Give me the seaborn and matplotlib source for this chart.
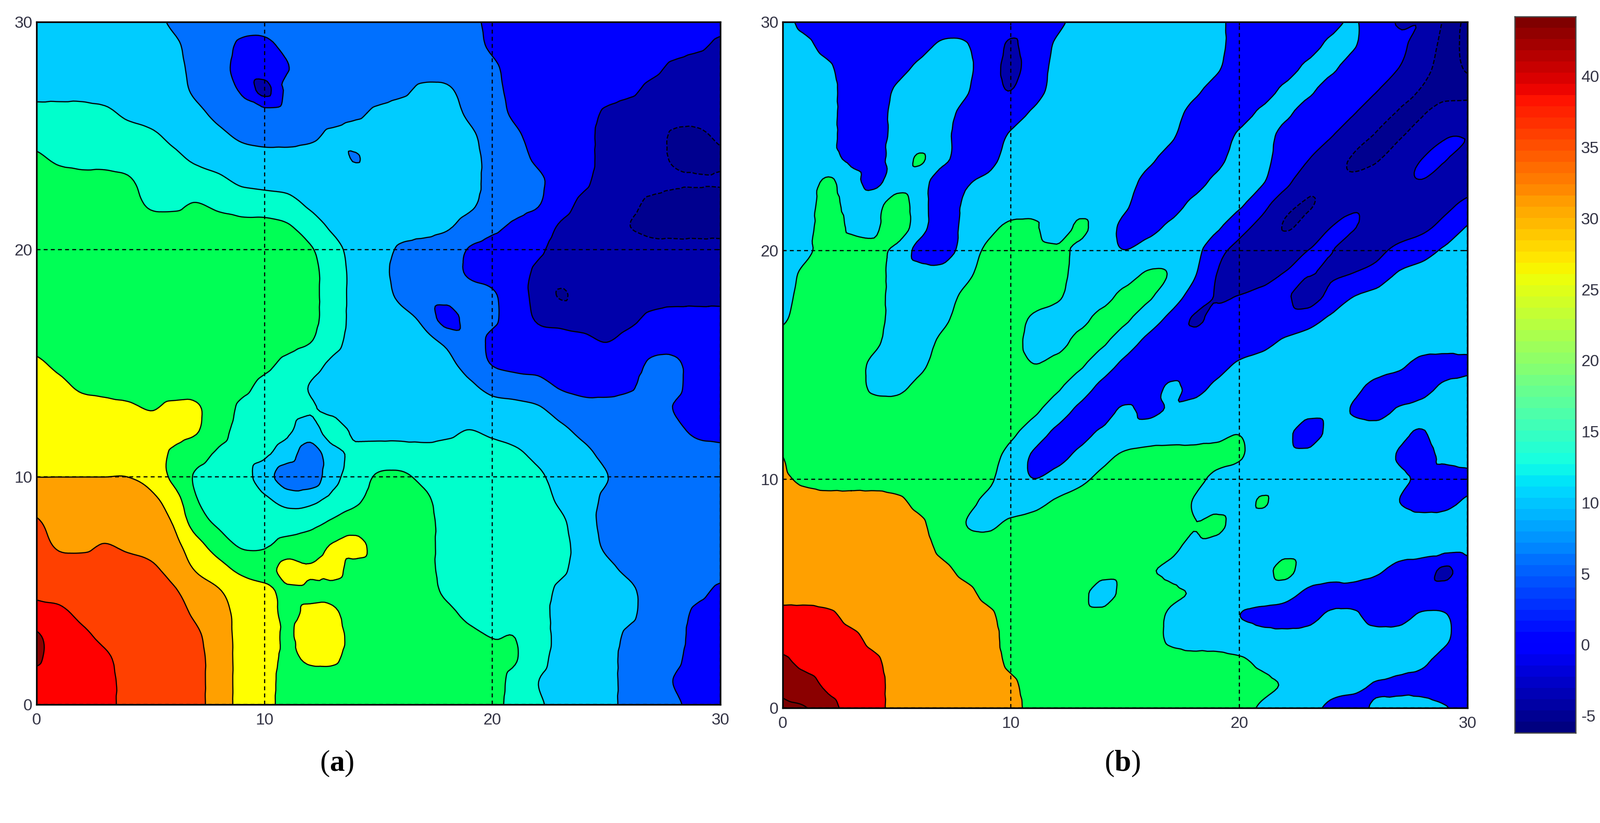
import numpy as np
import matplotlib
matplotlib.use("Agg")
import matplotlib.pyplot as plt
from matplotlib.tri import Triangulation, UniformTriRefiner, CubicTriInterpolator
import seaborn as sns

# Band grids, rows y=30 ... y=0, columns x=0 ... 30 ("band*count")
rows_a = [
 "4*6 3*14 2*6 3 2*4",
 "4*7 3*2 2*2 3*9 2*10 1",
 "4*7 3*2 2*3 3*9 2*7 1*3",
 "4*7 3*2 2*2 3*6 4*2 3*2 2*6 1*4",
 "5*4 4*4 3*7 4*4 3*2 2*4 1*6",
 "5*6 4*3 3*4 4*7 3*2 2*3 1*3 0*2 1",
 "6 5*6 4*13 3*2 2*3 1*3 0*3",
 "6*5 5*4 4*11 3*3 2*2 1*6",
 "6*5 5*2 6 5*4 4*8 3*3 2 1*3 0*4",
 "6*12 5 4*6 3*2 2*2 1*3 0*5",
 "6*13 5 4*2 3*3 2*4 1*8",
 "6*13 5 4*2 3*3 2*3 1*9",
 "6*13 5 4*2 3*5 2 1*9",
 "6*13 5 4*3 3*4 2 1*5 2*4",
 "6*13 5 4*4 3*2 2*5 1 2*5",
 "7 6*10 5*2 4*6 3 2*7 3*2 2*2",
 "7*2 6*8 5*2 4*8 3*3 2*4 3*2 2*2",
 "7*5 6 7*2 6 5*4 4*10 3*5 2*3",
 "7*8 6 5*3 4 5 4*5 5 4*4 3*5 2*2",
 "7*6 6*2 5*3 4 3 4 5*8 4*3 3*6",
 "h*6 6 5*3 4 3*2 4 5 6*2 5*6 4*3 3*5",
 "8*6 7 5*4 4*2 5*2 6*3 5*5 4*2 3*6",
 "9 8*6 6 5*5 6*5 5*6 4 3*6",
 "9 8*2 9 8*3 7 6 5*2 6*3 7 6*3 5*6 4 3*6",
 "9*6 8 7*2 6*2 7*3 6*4 5*6 4*2 3*5",
 "9*7 8*2 7*2 6*7 5*5 4*4 3*3 2",
 "a*2 9*5 8*2 7*2 6 7*2 6*5 5*4 4*4 3*2 2*2",
 "b a*2 9*5 8 7*2 6 7*2 6*6 5 6 5 4*3 3*3 2*2",
 "b a*3 9*4 8 7*2 6 7*2 6*8 5 4*3 3*3 2*2",
 "a*4 9*4 8 7*2 6*10 5 4*4 3*2 2*3",
 "a*4 9*4 8 7*2 6*10 5*2 4*3 3*3 2*2",
]
rows_b = [
 "3 2*12 3*7 2*5 3 2*3 0 e",
 "3*2 2*5 3*2 2 1 2 3*8 2*4 3*2 2*2 1 0 e",
 "3*3 2*3 3*3 2 1 2 3*8 2*3 3*2 2*3 1 0 e",
 "3*3 2*2 3*4 2 1 2 3*7 2*3 3*2 2*3 1 0*3",
 "3*3 2*2 3*3 2*3 3*7 2*3 3*2 2*3 1 0*2 1*2",
 "3*3 2*2 3*3 2*2 3*8 2*2 3*2 2*3 1 0*2 1 2*2",
 "3*3 2*2 3*3 2*2 3*7 2*3 3*2 2*2 1 0*2 1 2*2 1",
 "3*8 2 3*7 2*3 3*3 2 1 0*2 1 2*2 1*2",
 "3*2 4 3*2 4 3 2 3*8 2*2 3*3 2 1 0 1 2*2 1*3 2",
 "3*2 4 3*2 4 3 2 3*2 4*2 3 4 3 2*2 3*3 2 1 0 1 2*2 1*3 2 3",
 "3*2 4*3 3*2 2 3 4*4 3*2 2 3*3 2 1*3 2*2 1*2 2*2 3*2",
 "3 4*4 3*4 4*4 3*3 4*2 3 1*3 2*2 1*2 2 3*4",
 "3 4*4 3*3 4*5 3*2 4*2 3 2 1 2*3 1 2 3*6",
 "3 4*4 3*3 4*3 3*3 4*2 3 2*7 3*7",
 "4*5 3*2 4*4 3*2 4*2 3 2*6 3*9",
 "4*4 3*3 4*4 3 4*2 3 2*5 3*8 2*3",
 "4*4 3*2 4*7 3 2*5 3*7 2*3 3*2",
 "4*12 3 2*4 3*8 2*2 3*4",
 "4*11 3 2*2 3*6 4 3*2 2 3*4 2 3*2",
 "4*10 3 2*2 3*2 4*6 3*6 2*2 3*2",
 "5 4*9 3 2 3*2 4*5 3*10 2*2",
 "5*6 4*3 3*3 4*6 3*9 2*3 3",
 "5*7 4 3*2 4*9 3*12",
 "5*7 4*11 3*13",
 "5*8 4*8 3*6 4 3*4 2*4",
 "5*9 4*5 3 4*4 3*4 2*8",
 "6*3 5*7 4*7 3*3 2*4 3*2 2*2 3*2 2",
 "6*4 5*6 4*7 3*13 2",
 "7 6*4 5*5 4*11 3*8 2*2",
 "7*2 6*3 5*6 4*12 3*3 2*5",
 "8*2 7 6*2 5*6 4*10 3*3 2*2 3*4 2",
]
# band -> value
values_a = {"0": -5, "1": -2, "2": 3, "3": 8, "4": 13, "5": 18, "6": 23, "7": 28,
            "h": 30.5, "8": 33, "9": 38, "a": 42, "b": 47}
values_b = {"e": -9, "0": -6, "1": -3, "2": 3, "3": 12, "4": 22, "5": 32, "6": 40, "7": 44, "8": 47}
# small or narrow features (x, y, value)
spots_a = [(14, 24, 10.2), (10, 27, -1), (23, 18, -3.8), (18, 17, 3), (11, 10, 7.5), (12, 10, 7.5),
           (12, 11, 8), (11, 6, 27), (12, 6, 25.8), (13, 6, 26.5), (14, 7, 27), (13, 7, 25.8)]
spots_b = [(6, 24, 18), (2, 23, 18.5), (2, 22, 20), (2, 21, 21), (5, 22, 21), (5, 21, 22), (21, 9, 18),
           (27, 30, 0.3), (18, 17, 0.3), (17, 14, 9.5), (15, 13, 9.5), (29, 6, -0.5),
           (23, 22, -4.7), (22, 21, -4.7), (7, 23, 3), (7, 22, 3), (7, 21, 3), (7, 20, 3), (6, 20, 5),
           (4, 23, 6), (13, 21, 19), (12, 21, 10), (22, 6, 20), (0, 11, 27), (19, 8, 20)]

levels_a = [-20, -3.5, 0.5, 5.5, 10.5, 15.5, 20.5, 25.5, 30.5, 35.5, 40, 44.5, 60]
colors_a = ["#00008F", "#0000AA", "#0000FF", "#0070FF", "#00CCFF", "#00FFCC", "#00FF55",
            "#FFFF00", "#FFA000", "#FF4000", "#FF0000", "#8B0000"]
levels_b = [-20, -7.5, -4.5, 0.8, 8, 17, 27, 36, 42, 45.5, 60]
colors_b = ["#00008F", "#00008F", "#0000AA", "#0000FF", "#00CCFF", "#00FF55", "#FFA000",
            "#FF0000", "#8B0000", "#7A0000"]

ticks = [0, 10, 20, 30]
bar_ticks = [-5, 0, 5, 10, 15, 20, 25, 30, 35, 40]
bar_min, bar_max = -6.2, 44.2
panel_labels = [r"($\mathbf{a}$)", r"($\mathbf{b}$)"]
KERNEL = np.array([0.22, 0.56, 0.22])


def grid(rows, values, spots):
    table = []
    for row in rows:
        cells = []
        for tok in row.split():
            ch, _, n = tok.partition("*")
            cells += [values[ch]] * int(n or 1)
        assert len(cells) == 31, row
        table.append(cells)
    z = np.array(table, dtype=float)[::-1]
    # soften the cell-sized steps; single-cell features keep their value
    p = np.pad(z, 1, mode="edge")
    same = (p[1:-1, :-2] == z) | (p[1:-1, 2:] == z) | (p[:-2, 1:-1] == z) | (p[2:, 1:-1] == z)
    s = np.apply_along_axis(lambda r: np.convolve(np.pad(r, 1, mode="edge"), KERNEL, "valid"), 0, z)
    s = np.apply_along_axis(lambda r: np.convolve(np.pad(r, 1, mode="edge"), KERNEL, "valid"), 1, s)
    z = np.where(same, s, z)
    for x, y, v in spots:
        z[y, x] = v
    return z


def mesh(z, rising):
    """Triangular mesh on the 31x31 grid; the shared edge of each cell follows the main trend."""
    X, Y = np.meshgrid(np.arange(31), np.arange(31))
    tris = []
    for j in range(30):
        for i in range(30):
            a, b, c, d = j * 31 + i, j * 31 + i + 1, (j + 1) * 31 + i + 1, (j + 1) * 31 + i
            if rising:
                tris += [[a, b, c], [a, c, d]]
            else:
                tris += [[a, b, d], [b, c, d]]
    tri = Triangulation(X.ravel().astype(float), Y.ravel().astype(float), np.array(tris))
    interp = CubicTriInterpolator(tri, z.ravel(), kind="geom")
    return UniformTriRefiner(tri).refine_field(z.ravel(), triinterpolator=interp, subdiv=3)


sns.set_theme(style="white")
plt.rcParams["font.family"] = ["Liberation Sans", "DejaVu Sans"]
plt.rcParams["mathtext.fontset"] = "custom"
plt.rcParams["mathtext.rm"] = "Liberation Serif"
plt.rcParams["mathtext.bf"] = "Liberation Serif:bold"

W, H = 3283, 1688
fig = plt.figure(figsize=(W / 100, H / 100), dpi=100, facecolor="white")


def add_axes(x0, x1, y0, y1):
    return fig.add_axes([x0 / W, 1 - y1 / H, (x1 - x0) / W, (y1 - y0) / H])


tick_color = "#333344"
panels = [
    (add_axes(75, 1478, 45, 1445), grid(rows_a, values_a, spots_a), levels_a, colors_a, 691, False),
    (add_axes(1606, 3011, 45, 1452), grid(rows_b, values_b, spots_b), levels_b, colors_b, 2303, True),
]
for (ax, z, lv, col, cx, rising), lab in zip(panels, panel_labels):
    tri_f, z_f = mesh(z, rising)
    ax.tricontourf(tri_f, z_f, levels=lv, colors=col)
    ax.tricontour(tri_f, z_f, levels=lv[1:-1], colors="black", linewidths=1.7)
    ax.set_xlim(0, 30)
    ax.set_ylim(0, 30)
    ax.set_xticks(ticks)
    ax.set_yticks(ticks)
    ax.set_axisbelow(False)
    ax.grid(True, color="black", linestyle=(0, (3.4, 2.8)), linewidth=1.7)
    ax.tick_params(direction="in", length=5, width=1.5, labelsize=24, labelcolor=tick_color,
                   color="black", top=True, right=True, left=True, bottom=True, pad=12)
    ax.tick_params(axis="y", pad=6)
    for s in ax.spines.values():
        s.set_linewidth(2.4)
        s.set_color("black")
        s.set_visible(True)
    fig.text(cx / W, 1 - 1566 / H, lab, ha="center", va="center", fontsize=44,
             family="Liberation Serif", color="black")

# colour bar
cax = add_axes(3108, 3233, 34, 1503)
bar = np.linspace(bar_max, bar_min, 64).reshape(-1, 1)
sns.heatmap(bar, ax=cax, cmap="jet", vmin=bar_min, vmax=bar_max, cbar=False,
            xticklabels=False, yticklabels=False)
tpos = [(bar_max - v) / (bar_max - bar_min) * 64 for v in bar_ticks]
cax.yaxis.tick_right()
cax.set_yticks(tpos)
cax.set_yticklabels([str(v) for v in bar_ticks], rotation=0)
cax.tick_params(axis="y", direction="in", length=10, width=2, left=True, right=True,
                labelsize=24, labelcolor=tick_color, color="black", pad=8)
for s in cax.spines.values():
    s.set_visible(True)
    s.set_linewidth(1.8)
    s.set_color("#444444")

fig.savefig("out.png", dpi=100, facecolor="white")
